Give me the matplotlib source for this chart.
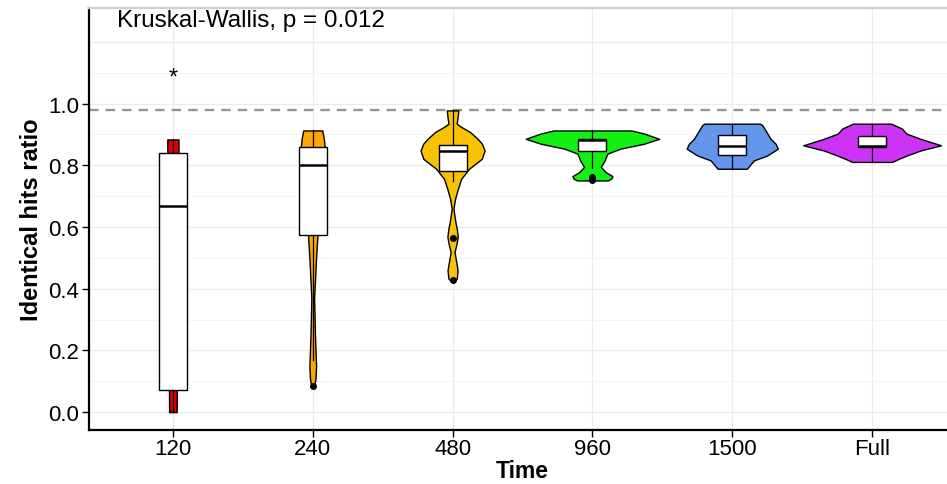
import numpy as np
import matplotlib.pyplot as plt

plt.rcParams['font.family'] = ['Liberation Sans', 'DejaVu Sans']

#Datos:
grupos = ['120', '240', '480', '960', '1500', 'Full']
colores = ['#E00000', '#FFA500', '#F8C200', '#14F014', '#6495ED', '#CC33F5']

#Estadisticos de las cajas:
q1 = [0.071, 0.575, 0.783, 0.846, 0.835, 0.859]
mediana = [0.668, 0.800, 0.848, 0.881, 0.862, 0.864]
q3 = [0.841, 0.859, 0.866, 0.884, 0.897, 0.894]
bigote_bajo = [0.000, 0.170, 0.750, 0.790, 0.789, 0.811]
bigote_alto = [0.884, 0.913, 0.978, 0.913, 0.935, 0.935]
atipicos = [[], [0.085], [0.565, 0.428], [0.752, 0.762], [], []]

#Perfiles de los violines (valor, semi-anchura en unidades de categoria):
v120_y = [0.000, 0.071, 0.300, 0.600, 0.841, 0.884]
v120_w = [0.027, 0.028, 0.040, 0.055, 0.040, 0.040]
v240_y = [0.085, 0.092, 0.110, 0.150, 0.250, 0.370, 0.500, 0.575, 0.700, 0.800, 0.859, 0.890, 0.913]
v240_w = [0.006, 0.014, 0.020, 0.024, 0.016, 0.010, 0.024, 0.034, 0.060, 0.080, 0.086, 0.078, 0.068]
v480_y = [0.426, 0.433, 0.460, 0.490, 0.519, 0.545, 0.568, 0.595, 0.617, 0.659, 0.692, 0.724, 0.756,
          0.789, 0.821, 0.848, 0.870, 0.886, 0.908, 0.925, 0.935, 0.955, 0.978]
v480_w = [0.014, 0.030, 0.036, 0.025, 0.014, 0.028, 0.037, 0.030, 0.020, 0.006, 0.018, 0.038, 0.061,
          0.118, 0.209, 0.229, 0.210, 0.179, 0.125, 0.060, 0.029, 0.036, 0.041]
v960_y = [0.751, 0.757, 0.765, 0.778, 0.795, 0.816, 0.838, 0.854, 0.870, 0.886, 0.903, 0.913]
v960_w = [0.110, 0.135, 0.143, 0.095, 0.060, 0.088, 0.107, 0.200, 0.369, 0.477, 0.370, 0.279]
v1500_y = [0.789, 0.800, 0.816, 0.832, 0.854, 0.870, 0.886, 0.913, 0.930, 0.935]
v1500_w = [0.105, 0.125, 0.155, 0.250, 0.326, 0.310, 0.274, 0.238, 0.215, 0.200]
vfull_y = [0.811, 0.821, 0.832, 0.848, 0.865, 0.886, 0.903, 0.919, 0.935]
vfull_w = [0.143, 0.190, 0.250, 0.345, 0.493, 0.345, 0.245, 0.214, 0.137]

perfiles = [(v120_y, v120_w), (v240_y, v240_w), (v480_y, v480_w),
            (v960_y, v960_w), (v1500_y, v1500_w), (vfull_y, vfull_w)]

#Grafica:
fig = plt.figure(figsize=(9.47, 4.85), dpi=100)
ax = fig.add_axes([89/947, 54/485, 867/947, 422/485])
pos = np.arange(1, len(grupos)+1)

for i, (yy, ww) in enumerate(perfiles):
    yy = np.array(yy)
    ww = np.array(ww)
    ax.fill_betweenx(yy, pos[i]-ww, pos[i]+ww, facecolor=colores[i], edgecolor='black', lw=1.0, zorder=2)

stats = []
for i in range(len(grupos)):
    stats.append({'med': mediana[i], 'q1': q1[i], 'q3': q3[i], 'whislo': bigote_bajo[i],
                  'whishi': bigote_alto[i], 'fliers': atipicos[i]})
ax.bxp(stats, positions=pos, widths=0.2, showcaps=False, patch_artist=True, manage_ticks=False,
       boxprops=dict(facecolor='white', edgecolor='black', lw=1.0),
       medianprops=dict(color='black', lw=1.8),
       whiskerprops=dict(color='black', lw=0.9),
       flierprops=dict(marker='o', markerfacecolor='black', markeredgecolor='black', markersize=4),
       zorder=3)

ax.axhline(0.98, color='#959595', lw=1.7, ls=(0, (4, 3)), zorder=1.5)
ax.text(1, 1.085, '*', ha='center', va='center', fontsize=17, zorder=4)
ax.text(0.6, 1.27, 'Kruskal-Wallis, p = 0.012', ha='left', va='center', fontsize=17.5, zorder=4)

ax.set_xlim(0.4, 6.6)
ax.set_ylim(-0.058, 1.31)
ax.set_xticks(pos)
ax.set_xticklabels(grupos)
ax.set_yticks(np.round(np.arange(0, 1.01, 0.2), 1))
ax.set_yticklabels(['0.0', '0.2', '0.4', '0.6', '0.8', '1.0'])
ax.set_yticks([0.1, 0.3, 0.5, 0.7, 0.9, 1.1], minor=True)
ax.tick_params(axis='both', which='major', labelsize=16, length=5, width=1, colors='black')
ax.tick_params(axis='x', which='major', pad=1)
ax.tick_params(axis='y', which='major', pad=2)
ax.tick_params(axis='y', which='minor', length=0)
ax.grid(True, which='major', color='#EBEBEB', lw=0.9, zorder=0)
ax.grid(True, which='minor', axis='y', color='#F4F4F4', lw=0.7, zorder=0)
ax.axhline(1.2, color='#EBEBEB', lw=0.9, zorder=0)
ax.set_axisbelow(True)

ax.set_xlabel('Time', fontsize=16.5, fontweight='bold', labelpad=0)
ax.set_ylabel('Identical hits ratio', fontsize=17, fontweight='bold', labelpad=4)

for s in ['left', 'bottom']:
    ax.spines[s].set_linewidth(1.6)
    ax.spines[s].set_color('black')
ax.spines['top'].set_color('#CFCFCF')
ax.spines['top'].set_linewidth(1.6)
ax.spines['right'].set_color('#CFCFCF')

fig.savefig('out.png', dpi=100)
